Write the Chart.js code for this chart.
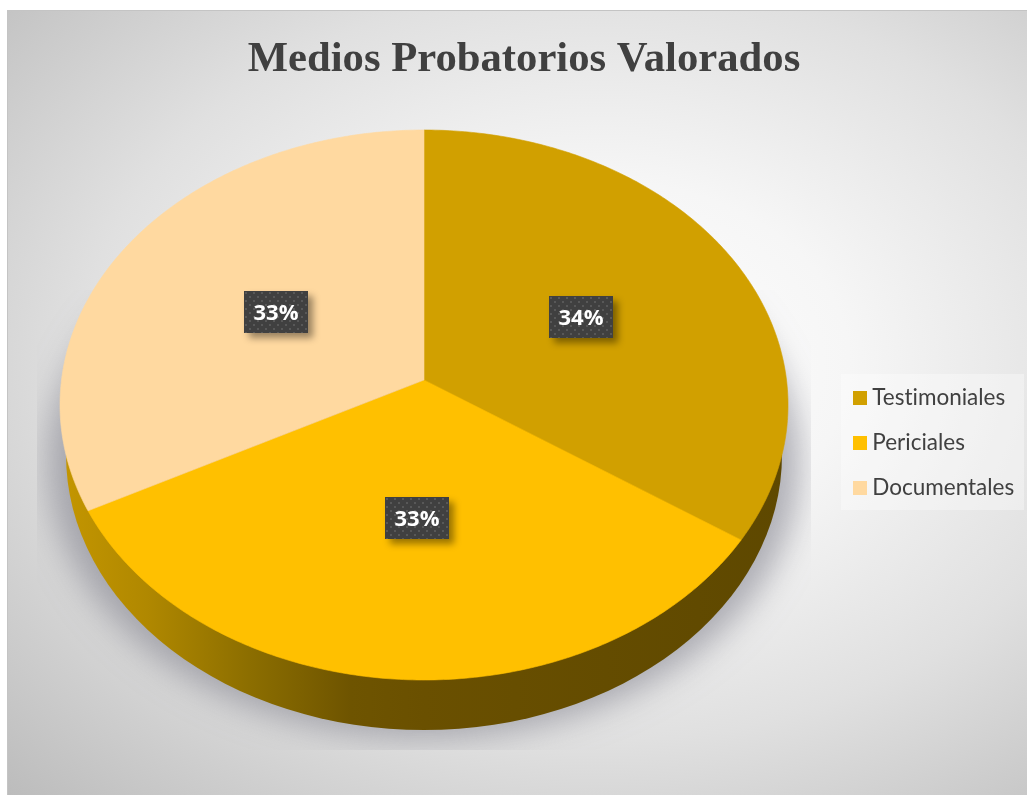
<!DOCTYPE html>
<html>
<head>
<meta charset="utf-8">
<script src="https://cdn.jsdelivr.net/npm/chart.js@4"></script>
<style>
html,body{margin:0;padding:0;background:#fff;overflow:hidden}
#panel{position:absolute;left:7px;top:10px;width:1020px;height:785px;box-sizing:border-box;border-left:1px solid #c4c4c4;border-top:1px solid #c4c4c4;
background:radial-gradient(ellipse farthest-corner at 58% 45%,#ffffff 0%,#f6f6f6 30%,#e0e0e0 62%,#bcbcbc 100%)}
canvas{position:absolute;left:0;top:0}
</style>
</head>
<body>
<div id="panel"></div>
<canvas id="c" width="1027" height="795"></canvas>
<script>
const chartTitle = 'Medios Probatorios Valorados';
const categories = ['Testimoniales', 'Periciales', 'Documentales'];
const values = [34.4, 33.0, 32.6];
const colors = ['#D1A000', '#FFC000', '#FFD9A0'];

const TEXT = '#404040';
const XSTRETCH = 364 / 275;   // ellipse width / height of the tilted disc
const K = -25 / 275;          // perspective: moves the apex above the ellipse centre
const WALL = 50;
const LABEL_NUDGE = [[0, 0], [4, -5], [3, 1]];

function project(arc, a, t) {
  const x = Math.cos(a) * t, y = Math.sin(a) * t, w = 1 + K * y;
  const r = arc.outerRadius;
  return [
    arc.x + r * XSTRETCH * Math.sqrt(1 - K * K) * x / w,
    arc.y + r * (y + K) / w
  ];
}
function sectorPath(ctx, arc) {
  const hub = project(arc, 0, 0);
  ctx.beginPath();
  ctx.moveTo(hub[0], hub[1]);
  const n = Math.ceil((arc.endAngle - arc.startAngle) * 90);
  for (let i = 0; i <= n; i++) {
    const p = project(arc, arc.startAngle + (arc.endAngle - arc.startAngle) * i / n, 1);
    ctx.lineTo(p[0], p[1]);
  }
  ctx.closePath();
}

function dotPattern(ctx) {
  const c = document.createElement('canvas');
  c.width = 8; c.height = 8;
  const g = c.getContext('2d');
  g.fillStyle = '#404040'; g.fillRect(0, 0, 8, 8);
  g.fillStyle = '#585858';
  g.fillRect(1, 1, 2, 2);
  g.fillRect(5, 5, 2, 2);
  return ctx.createPattern(c, 'repeat');
}
function swatch(color) {
  const c = document.createElement('canvas');
  c.width = 14; c.height = 14;
  const g = c.getContext('2d');
  g.fillStyle = color; g.fillRect(0, 0, 14, 14);
  return c;
}

const tiltPlugin = {
  id: 'tilt',
  afterLayout(chart) {
    Object.assign(chart.chartArea, {left: 149, right: 699, top: 130, bottom: 680, width: 550, height: 550});
    const lg = chart.legend;
    lg.left = 835.5; lg.right = 1027; lg.top = 364; lg.bottom = 795;
    const t = chart.titleBlock;
    t.left = 21; t.right = 1027; t.top = 34; t.bottom = 86;
  },
  beforeDraw(chart) {
    const ctx = chart.ctx;
    ctx.textRendering = 'optimizeSpeed';
    ctx.save();
    ctx.fillStyle = 'rgba(255,255,255,0.35)';
    ctx.fillRect(841, 374, 183, 136);
    ctx.restore();
  },
  beforeDatasetDraw(chart) {
    const ctx = chart.ctx;
    const arcs = chart.getDatasetMeta(0).data;
    const a0 = arcs[0];
    const cx = a0.x, cy = a0.y, r = a0.outerRadius;
    const rx = r * XSTRETCH;

    // soft ground shadow, clipped to its box
    ctx.save();
    ctx.beginPath();
    ctx.rect(37, 290, 774, 460);
    ctx.clip();
    ctx.shadowColor = 'rgba(130,130,142,0.62)';
    ctx.shadowBlur = 32;
    ctx.shadowOffsetX = 2000;
    ctx.fillStyle = '#000';
    ctx.beginPath();
    ctx.ellipse(cx - 2000, cy + 58, rx + 12, r, 0, 0, Math.PI * 2);
    ctx.fill();
    ctx.restore();

    // side wall
    ctx.save();
    const g = ctx.createLinearGradient(cx - rx, 0, cx + rx, 0);
    g.addColorStop(0, '#C49600');
    g.addColorStop(0.12, '#B08800');
    g.addColorStop(0.26, '#8C6E00');
    g.addColorStop(0.40, '#6E5400');
    g.addColorStop(0.5, '#6A5000');
    g.addColorStop(1, '#5E4800');
    ctx.fillStyle = g;
    ctx.beginPath();
    ctx.ellipse(cx, cy + WALL, rx - 6, r, 0, 0, Math.PI * 2);
    ctx.fill();
    ctx.restore();

    // top face
    ctx.save();
    arcs.forEach((arc, i) => {
      sectorPath(ctx, arc);
      ctx.fillStyle = colors[i];
      ctx.fill();
      ctx.strokeStyle = colors[i];
      ctx.lineWidth = 0.6;
      ctx.stroke();
    });
    ctx.restore();
    return false;
  },
  afterDatasetsDraw(chart) {
    const ctx = chart.ctx;
    const arcs = chart.getDatasetMeta(0).data;
    const total = values.reduce((s, v) => s + v, 0);
    const pat = dotPattern(ctx);
    arcs.forEach((arc, i) => {
      const mid = (arc.startAngle + arc.endAngle) / 2;
      const p = project(arc, mid, 0.5);
      const bx = Math.round(p[0] - 32 + LABEL_NUDGE[i][0]), by = Math.round(p[1] - 21 + LABEL_NUDGE[i][1]);
      ctx.save();
      ctx.shadowColor = 'rgba(0,0,0,0.4)';
      ctx.shadowBlur = 7;
      ctx.shadowOffsetX = 5;
      ctx.shadowOffsetY = 5;
      ctx.fillStyle = '#404040';
      ctx.fillRect(bx, by, 64, 42);
      ctx.restore();
      ctx.save();
      ctx.fillStyle = pat;
      ctx.translate(bx, by);
      ctx.fillRect(0, 0, 64, 42);
      ctx.restore();
      ctx.save();
      ctx.fillStyle = '#fff';
      ctx.font = 'bold 22px "Open Sans"';
      ctx.textAlign = 'center';
      ctx.textBaseline = 'middle';
      ctx.fillText(Math.round(values[i] / total * 100) + '%', bx + 32, by + 23);
      ctx.restore();
    });
  }
};

new Chart(document.getElementById('c'), {
  type: 'pie',
  data: {
    labels: categories,
    datasets: [{data: values, backgroundColor: colors, borderWidth: 0}]
  },
  plugins: [tiltPlugin],
  options: {
    responsive: false,
    animation: false,
    plugins: {
      tooltip: {enabled: false},
      title: {
        display: true,
        text: chartTitle,
        color: TEXT,
        padding: 0,
        font: {family: '"Liberation Serif"', size: 42.7, weight: 'bold', lineHeight: 1.2}
      },
      legend: {
        position: 'right',
        align: 'start',
        labels: {
          color: TEXT,
          font: {family: 'Lato', size: 22.5},
          padding: 22.5,
          usePointStyle: true,
          pointStyleWidth: 3,
          boxHeight: 14,
          generateLabels: () => categories.map((text, i) => ({
            text, index: i, datasetIndex: 0, fontColor: TEXT, hidden: false,
            lineWidth: 0, pointStyle: swatch(colors[i])
          }))
        }
      }
    }
  }
});
</script>
</body>
</html>
